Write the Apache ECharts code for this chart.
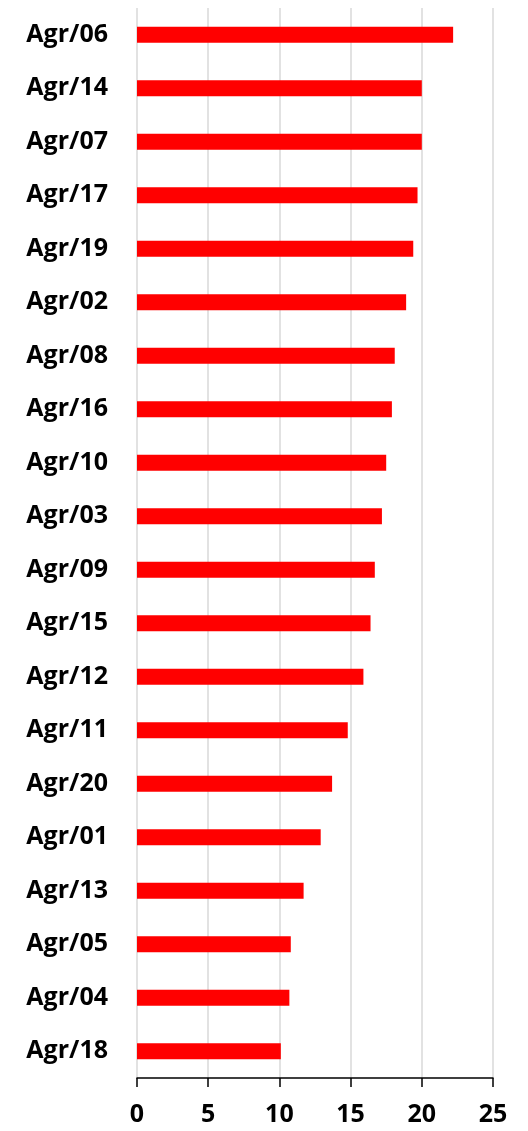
<!DOCTYPE html>
<html>
<head>
<meta charset="utf-8">
<script src="https://cdn.jsdelivr.net/npm/echarts@6/dist/echarts.min.js"></script>
<style>
  html, body { margin: 0; padding: 0; background: #fff; }
  #chart { width: 528px; height: 1131px; }
</style>
</head>
<body>
<div id="chart"></div>
<script>
// categories, top to bottom
const categories = [
  "Agr/06", "Agr/14", "Agr/07", "Agr/17", "Agr/19", "Agr/02", "Agr/08",
  "Agr/16", "Agr/10", "Agr/03", "Agr/09", "Agr/15", "Agr/12", "Agr/11",
  "Agr/20", "Agr/01", "Agr/13", "Agr/05", "Agr/04", "Agr/18",
];
const values = [
  22.2, 20.0, 20.0, 19.7, 19.4, 18.9, 18.1,
  17.9, 17.5, 17.2, 16.7, 16.4, 15.9, 14.8,
  13.7, 12.9, 11.7, 10.8, 10.7, 10.1,
];

const chart = echarts.init(document.getElementById("chart"));

const fontFamily = "'Open Sans', sans-serif";

chart.setOption({
  animation: false,
  grid: { left: 137, right: 35, top: 8, bottom: 53, containLabel: false },
  xAxis: {
    type: "value",
    min: 0,
    max: 25,
    interval: 5,
    axisLine: { show: true, lineStyle: { color: "#000", width: 1.5 } },
    axisTick: { show: true, length: 9, lineStyle: { color: "#000", width: 1.5 } },
    axisLabel: { color: "#000", fontSize: 25, fontWeight: "bold", fontFamily, margin: 24 },
    splitLine: { show: true, lineStyle: { color: "#d9d9d9", width: 1.5 } },
  },
  yAxis: {
    type: "category",
    inverse: true,
    data: categories,
    axisLine: { show: false },
    axisTick: { show: false },
    axisLabel: { color: "#000", fontSize: 25, fontWeight: "bold", fontFamily, margin: 29 },
  },
  series: [
    {
      type: "bar",
      data: values,
      barWidth: 16,
      itemStyle: { color: "#ff0000" },
    },
  ],
});
</script>
</body>
</html>
